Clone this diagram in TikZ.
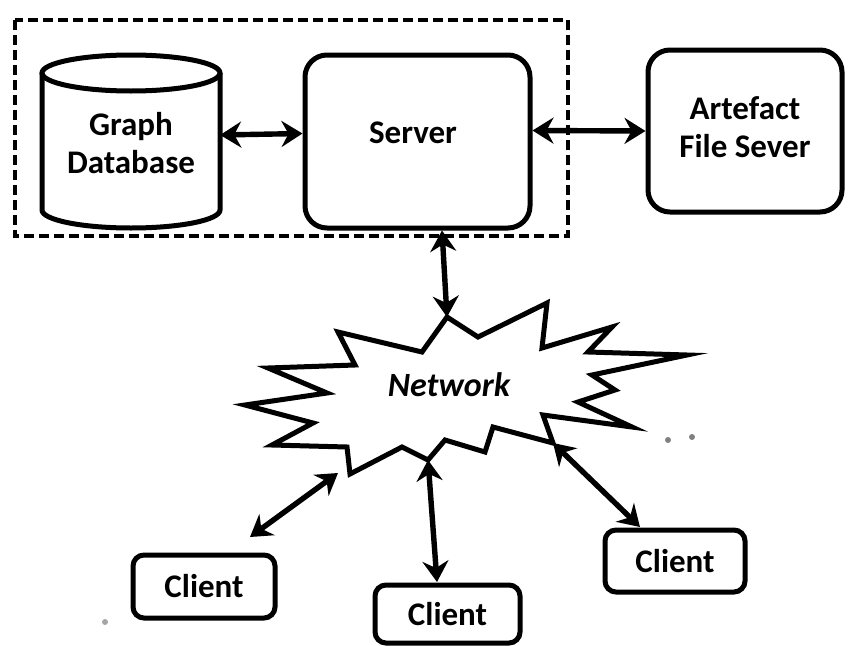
\documentclass[tikz,border=0pt]{standalone}
\usepackage{fontspec}
\setmainfont{Carlito}
\usetikzlibrary{arrows.meta}
\begin{document}
\begin{tikzpicture}[x=1pt,y=-1pt,
  thick line/.style={line width=5pt},
  box/.style={draw, line width=5pt, rounded corners=22pt, inner sep=0pt},
  clientbox/.style={draw, line width=5pt, rounded corners=11pt, inner sep=0pt,
    font=\fontsize{33}{40}\selectfont\bfseries},
  txt/.style={font=\fontsize{33}{38}\selectfont\bfseries, align=center, inner sep=0pt},
  link/.style={line width=5.4pt, {Stealth[length=21pt,width=26pt,inset=7pt]}-{Stealth[length=21pt,width=26pt,inset=7pt]}}]
\useasboundingbox (0,0) rectangle (856,645);

% server group frame
\draw[line width=3.8pt, dash pattern=on 10pt off 5pt] (15,20) rectangle (568,236);

% graph database cylinder
\draw[thick line] (42,73) -- (42,210) arc[start angle=180, end angle=0, x radius=89, y radius=18] -- (220,73);
\draw[thick line] (131,73) ellipse [x radius=89, y radius=18];
\node[txt, minimum width=178pt, minimum height=173pt] (db) at (131,143) {Graph\\Database};

% server
\node[box, minimum width=225pt, minimum height=173pt] (server) at (417.5,141.5) {};
\node[txt] (servertxt) at (413,133) {Server};

% artefact file server
\node[box, minimum width=194pt, minimum height=162pt] (art) at (745,131) {};
\node[txt] (arttxt) at (745,127) {Artefact\\File Sever};

% network
\draw[thick line, line join=miter, miter limit=20]
  (447,317) coordinate (ntop) -- (478,337) -- (547,303) -- (542,348) -- (612,327)
  -- (588,352) -- (687,355) -- (592,375) -- (615,390) -- (578,402) -- (632,427)
  -- (543,415) -- (553,443) coordinate (nright) -- (493,427) -- (485,452)
  -- (445,440) -- (428,460) coordinate (nbottom) -- (402,447) -- (350,474)
  coordinate (nleft) -- (347,447) -- (272,445) -- (313,423) -- (245,405)
  -- (327,393) -- (268,368) -- (355,365) -- (338,332) -- (422,352) -- cycle;
\node[font=\fontsize{34}{40}\selectfont\bfseries\itshape, inner sep=0pt] (net) at (449,385) {Network};

% clients
\node[clientbox, minimum width=142pt, minimum height=63pt] (c1) at (204,586.5) {Client};
\node[clientbox, minimum width=145pt, minimum height=58pt] (c2) at (447.5,614) {Client};
\node[clientbox, minimum width=140pt, minimum height=62pt] (c3) at (675,561) {Client};

% connections
\coordinate (c1end) at (250,537);
\coordinate (c2end) at (437,582);
\coordinate (c3end) at (640,527);
\draw[link] ([yshift=8pt]db.east) -- ([yshift=8pt]server.west);
\draw[link] ([yshift=11pt]server.east) -- ([yshift=0pt]art.west);
\draw[link] ([xshift=-5pt]server.south -| ntop) -- (ntop);
\draw[link] (c1end) -- ([xshift=-12pt,yshift=1pt]nleft);
\draw[link] (c2end) -- (nbottom);
\draw[link] (c3end) -- (nright);

% specks
\fill[gray] (668,440) circle (3pt);
\fill[gray] (692,437) circle (3pt);
\fill[gray!70] (105,622) circle (3pt);
\end{tikzpicture}
\end{document}
